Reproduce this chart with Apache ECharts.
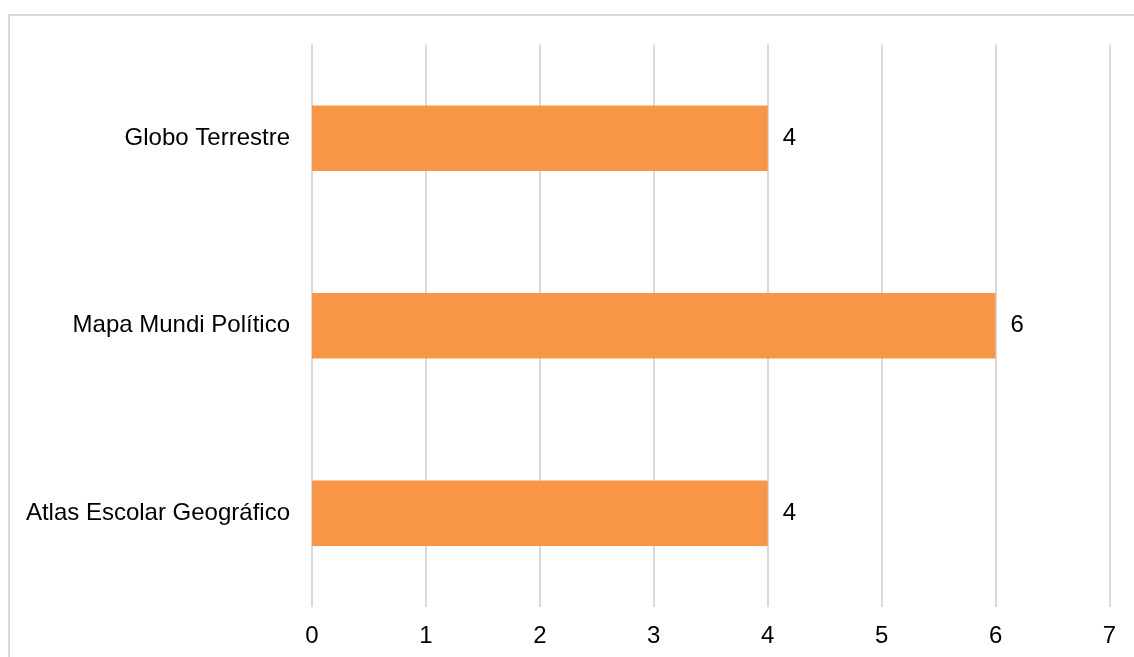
<!DOCTYPE html>
<html>
<head>
<meta charset="utf-8">
<script src="https://cdn.jsdelivr.net/npm/echarts@6/dist/echarts.min.js"></script>
<style>
html,body{margin:0;padding:0;background:#fff;}
#chart{width:1134px;height:657px;}
</style>
</head>
<body>
<div id="chart"></div>
<script>
var categories = ['Atlas Escolar Geográfico', 'Mapa Mundi Político', 'Globo Terrestre'];
var values = [4, 6, 4];
var xTicks = [0, 1, 2, 3, 4, 5, 6, 7];

var chart = echarts.init(document.getElementById('chart'), null, {renderer: 'canvas'});
chart.setOption({
  animation: false,
  backgroundColor: '#ffffff',
  textStyle: {fontFamily: 'Liberation Sans, Arial, sans-serif'},
  graphic: [{
    type: 'rect',
    shape: {x: 9, y: 15, width: 1200, height: 700},
    style: {fill: 'none', stroke: '#d9d9d9', lineWidth: 2},
    silent: true
  }],
  grid: {left: 312, right: 24.5, top: 44.5, bottom: 50, containLabel: false},
  xAxis: {
    type: 'value',
    min: xTicks[0],
    max: xTicks[xTicks.length - 1],
    interval: 1,
    axisLine: {show: false},
    axisTick: {show: false},
    axisLabel: {color: '#000', fontSize: 24, margin: 17, fontFamily: 'Liberation Sans, Arial, sans-serif'},
    splitLine: {show: true, lineStyle: {color: '#d9d9d9', width: 2}}
  },
  yAxis: {
    type: 'category',
    data: categories,
    axisLine: {show: false},
    axisTick: {show: false},
    axisLabel: {color: '#000', fontSize: 24, margin: 22, fontFamily: 'Liberation Sans, Arial, sans-serif'},
    splitLine: {show: false}
  },
  series: [{
    type: 'bar',
    data: values,
    barWidth: '35%',
    itemStyle: {color: '#F79646'},
    label: {
      show: true,
      position: 'right',
      distance: 15,
      color: '#000',
      fontSize: 24,
      fontFamily: 'Liberation Sans, Arial, sans-serif'
    }
  }]
});
</script>
</body>
</html>
